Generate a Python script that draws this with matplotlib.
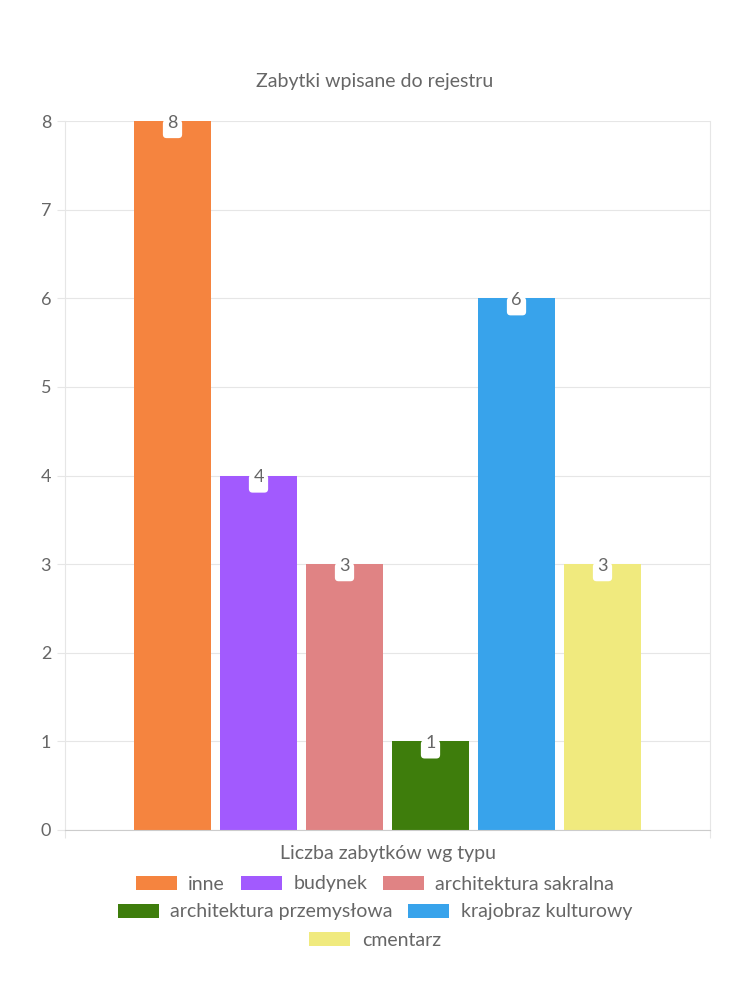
import matplotlib
matplotlib.use("Agg")
import matplotlib.pyplot as plt
from matplotlib.patches import Patch

# dane z wykresu
categories = ["inne", "budynek", "architektura sakralna",
              "architektura przemysłowa", "krajobraz kulturowy", "cmentarz"]
values = [8, 4, 3, 1, 6, 3]
colors = ["#F5843F", "#A25AFE", "#E08384", "#3E7D0C", "#38A3EB", "#F0EA7E"]
y_ticks = [0, 1, 2, 3, 4, 5, 6, 7, 8]

plt.rcParams["font.family"] = ["Lato", "DejaVu Sans"]
TXT = "#666666"
GRID = "#e6e6e6"

fig = plt.figure(figsize=(7.5, 10), dpi=100)
ax = fig.add_axes([65 / 750, 170 / 1000, 645 / 750, 709 / 1000])

# chart.js-like: categoryPercentage 0.8, barPercentage 0.9
n = len(values)
slot = 0.8 / n
for i, (v, c) in enumerate(zip(values, colors)):
    x = -0.4 + slot * (i + 0.5)
    ax.bar(x, v, width=slot * 0.9, color=c, zorder=2)
    # biala etykieta z wartoscia
    ax.annotate("    ", xy=(x, v), xytext=(0, -8), textcoords="offset pixels",
                ha="center", va="center", fontsize=9, zorder=3,
                bbox=dict(boxstyle="round,pad=0.25,rounding_size=0.3",
                          fc="white", ec="none"))
    ax.annotate(str(v), xy=(x, v), xytext=(0, -2), textcoords="offset pixels",
                ha="center", va="center", fontsize=13, color=TXT, zorder=4)

ax.set_xlim(-0.5, 0.5)
ax.set_ylim(0, 8)
ax.set_yticks(y_ticks)
ax.set_xticks([-0.5, 0.5])
ax.set_xticklabels([])
ax.tick_params(axis="y", length=6, color=GRID, labelsize=13, labelcolor=TXT, pad=4)
ax.tick_params(axis="x", length=6, color=GRID)
ax.grid(axis="y", color=GRID, linewidth=0.8, zorder=0)
for s in ["left", "right", "bottom", "top"]:
    ax.spines[s].set_color(GRID)
ax.spines["bottom"].set_color("#cccccc")
ax.spines["top"].set_visible(False)

ax.set_xlabel("Liczba zabytków wg typu", fontsize=14, color=TXT, labelpad=1)
fig.text(0.5, 0.919, "Zabytki wpisane do rejestru", ha="center", va="center",
         fontsize=14, color=TXT)

# legenda w trzech wyśrodkowanych wierszach
handles = [Patch(facecolor=c, edgecolor="none") for c in colors]
rows = [[0, 1, 2], [3, 4], [5]]
row_y = [0.116, 0.088, 0.060]
for r, y in zip(rows, row_y):
    leg = fig.legend([handles[i] for i in r], [categories[i] for i in r],
                     loc="center", bbox_to_anchor=(0.5, y), ncol=len(r),
                     frameon=False, fontsize=14, handlelength=2.1,
                     handleheight=0.75, handletextpad=0.6, columnspacing=0.8,
                     borderpad=0, borderaxespad=0)
    for t in leg.get_texts():
        t.set_color(TXT)

fig.savefig("out.png", dpi=100)
